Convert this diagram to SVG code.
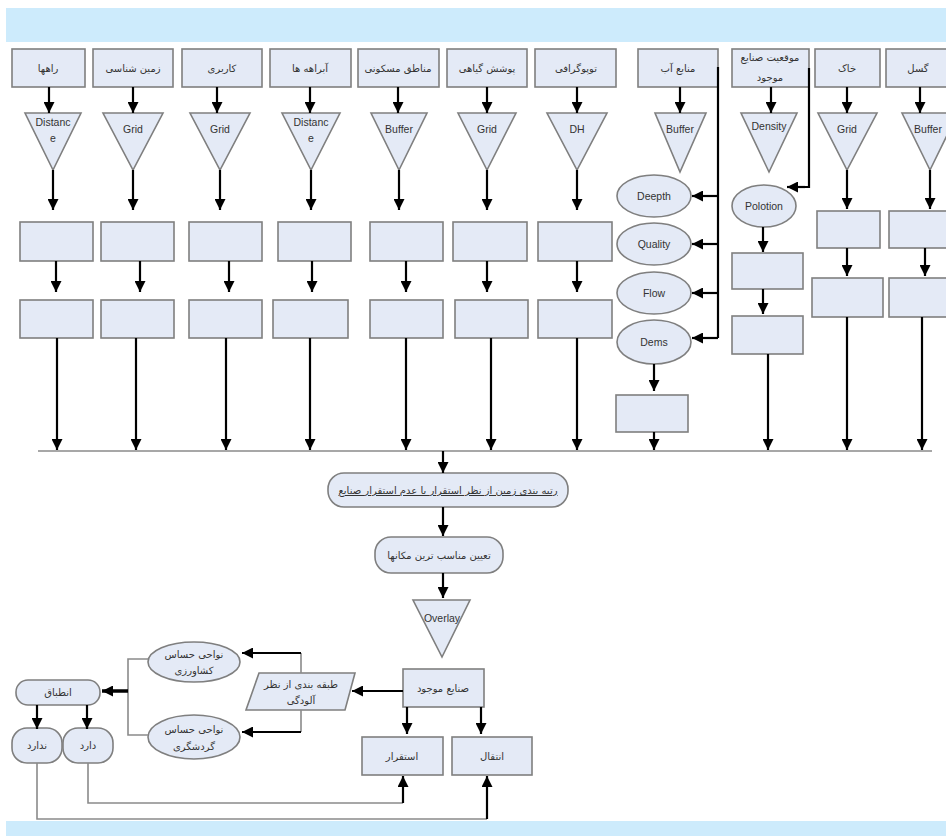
<svg xmlns="http://www.w3.org/2000/svg" width="946" height="836" viewBox="0 0 946 836">
<defs>
<marker id="ah" viewBox="0 0 10 10" refX="10" refY="5" markerWidth="11" markerHeight="11" markerUnits="userSpaceOnUse" orient="auto"><path d="M0,0 L10,5 L0,10 z" fill="#000"/></marker>
<style>
.bx{fill:#e4eaf6;stroke:#7f7f7f;stroke-width:1.6}
.ar{fill:none;stroke:#000;stroke-width:2.2;marker-end:url(#ah)}
.ln{fill:none;stroke:#000;stroke-width:2.2}
.gl{fill:none;stroke:#8a8a8a;stroke-width:1.6}
.fa{font-family:"DejaVu Sans",sans-serif;font-size:10px;fill:#333;text-anchor:middle}
.en{font-family:"Liberation Sans",Arial,sans-serif;font-size:10.5px;fill:#333;text-anchor:middle}
</style>
</defs>
<rect x="0" y="0" width="946" height="836" fill="#fff"/>
<rect x="6" y="8" width="940" height="34" fill="#cdebfc"/>
<rect x="6" y="821" width="940" height="15" fill="#cdebfc"/>

<g id="h1"><rect class="bx" x="12" y="49" width="73" height="38"/><text class="fa" x="48" y="72">راهها</text></g>
<g id="h2"><rect class="bx" x="93" y="49" width="80" height="38"/><text class="fa" x="133" y="72">زمین شناسی</text></g>
<g id="h3"><rect class="bx" x="182" y="49" width="80" height="38"/><text class="fa" x="222" y="72">کاربری</text></g>
<g id="h4"><rect class="bx" x="270" y="49" width="81" height="38"/><text class="fa" x="310" y="72">آبراهه ها</text></g>
<g id="h5"><rect class="bx" x="358" y="49" width="81" height="38"/><text class="fa" x="398" y="72">مناطق مسکونی</text></g>
<g id="h6"><rect class="bx" x="447" y="49" width="80" height="38"/><text class="fa" x="487" y="72">پوشش گیاهی</text></g>
<g id="h7"><rect class="bx" x="535" y="49" width="81" height="38"/><text class="fa" x="576" y="72">توپوگرافی</text></g>
<g id="h8"><rect class="bx" x="638" y="49" width="80" height="38"/><text class="fa" x="678" y="72">منابع آب</text></g>
<g id="h9"><rect class="bx" x="732" y="49" width="77" height="38"/><text class="fa" x="770" y="61">موقعیت صنایع</text><text class="fa" x="770" y="81">موجود</text></g>
<g id="h10"><rect class="bx" x="815" y="49" width="65" height="38"/><text class="fa" x="847" y="72">خاک</text></g>
<g id="h11"><rect class="bx" x="886" y="49" width="70" height="38"/><text class="fa" x="918" y="72">گسل</text></g>

<g id="t1"><polygon class="bx" points="25,113 81,113 53,170"/><text class="en" x="53" y="126">Distanc</text><text class="en" x="53" y="142">e</text></g>
<g id="t2"><polygon class="bx" points="103,113 163,113 133,170"/><text class="en" x="133" y="133">Grid</text></g>
<g id="t3"><polygon class="bx" points="190,113 250,113 220,170"/><text class="en" x="220" y="133">Grid</text></g>
<g id="t4"><polygon class="bx" points="282,113 340,113 311,170"/><text class="en" x="311" y="126">Distanc</text><text class="en" x="311" y="142">e</text></g>
<g id="t5"><polygon class="bx" points="371,113 427,113 399,170"/><text class="en" x="399" y="133">Buffer</text></g>
<g id="t6"><polygon class="bx" points="458,113 516,113 487,170"/><text class="en" x="487" y="133">Grid</text></g>
<g id="t7"><polygon class="bx" points="547,113 607,113 577,170"/><text class="en" x="577" y="133">DH</text></g>
<g id="t8"><polygon class="bx" points="655,113 706,113 680,172"/><text class="en" x="680" y="133">Buffer</text></g>
<g id="t9"><polygon class="bx" points="741,113 797,113 769,172"/><text class="en" x="769" y="130">Density</text></g>
<g id="t10"><polygon class="bx" points="818,113 877,113 847,170"/><text class="en" x="847" y="133">Grid</text></g>
<g id="t11"><polygon class="bx" points="902,113 958,113 930,170"/><text class="en" x="928" y="133">Buffer</text></g>

<g id="r1a"><rect class="bx" x="20" y="222" width="73" height="39"/></g>
<g id="r2a"><rect class="bx" x="101" y="222" width="73" height="39"/></g>
<g id="r3a"><rect class="bx" x="189" y="222" width="73" height="39"/></g>
<g id="r4a"><rect class="bx" x="278" y="222" width="73" height="39"/></g>
<g id="r5a"><rect class="bx" x="370" y="222" width="73" height="39"/></g>
<g id="r6a"><rect class="bx" x="453" y="222" width="74" height="39"/></g>
<g id="r7a"><rect class="bx" x="538" y="222" width="74" height="39"/></g>
<g id="r1b"><rect class="bx" x="20" y="300" width="73" height="38"/></g>
<g id="r2b"><rect class="bx" x="101" y="300" width="73" height="38"/></g>
<g id="r3b"><rect class="bx" x="189" y="300" width="73" height="38"/></g>
<g id="r4b"><rect class="bx" x="273" y="300" width="75" height="38"/></g>
<g id="r5b"><rect class="bx" x="370" y="300" width="73" height="38"/></g>
<g id="r6b"><rect class="bx" x="455" y="300" width="73" height="38"/></g>
<g id="r7b"><rect class="bx" x="538" y="300" width="74" height="38"/></g>

<g id="deepth"><ellipse class="bx" cx="654" cy="196" rx="37" ry="21"/><text class="en" x="654" y="200">Deepth</text></g>
<g id="quality"><ellipse class="bx" cx="654" cy="244" rx="37" ry="21"/><text class="en" x="654" y="248">Quality</text></g>
<g id="flow"><ellipse class="bx" cx="654" cy="293" rx="37" ry="21"/><text class="en" x="654" y="297">Flow</text></g>
<g id="dems"><ellipse class="bx" cx="654" cy="342" rx="37" ry="22"/><text class="en" x="654" y="346">Dems</text></g>
<g id="r8"><rect class="bx" x="616" y="395" width="72" height="37"/></g>
<g id="polotion"><ellipse class="bx" cx="764" cy="206" rx="32" ry="21"/><text class="en" x="764" y="210">Polotion</text></g>
<g id="r9a"><rect class="bx" x="732" y="253" width="71" height="36"/></g>
<g id="r9b"><rect class="bx" x="732" y="316" width="71" height="38"/></g>
<g id="r10a"><rect class="bx" x="817" y="211" width="63" height="37"/></g>
<g id="r10b"><rect class="bx" x="812" y="278" width="71" height="39"/></g>
<g id="r11a"><rect class="bx" x="889" y="211" width="67" height="37"/></g>
<g id="r11b"><rect class="bx" x="889" y="278" width="67" height="39"/></g>

<g id="rank"><rect class="bx" x="328" y="473" width="240" height="34" rx="16"/><text class="fa" x="448" y="494" text-decoration="underline">رتبه بندی زمین از نظر استقرار یا عدم استقرار صنایع</text></g>
<g id="best"><rect class="bx" x="375" y="537" width="128" height="36" rx="16"/><text class="fa" x="439" y="559">تعیین مناسب ترین مکانها</text></g>
<g id="overlay"><polygon class="bx" points="413,600 470,600 442,657"/><text class="en" x="442" y="622">Overlay</text></g>
<g id="industry"><rect class="bx" x="403" y="669" width="81" height="38"/><text class="fa" x="443" y="692">صنایع موجود</text></g>
<g id="pollution"><polygon class="bx" points="259,673 355,673 345,710 246,710"/><text class="fa" x="301" y="688">طبقه بندی از نظر</text><text class="fa" x="301" y="704">آلودگی</text></g>
<g id="agri"><ellipse class="bx" cx="194" cy="662" rx="46" ry="20"/><text class="fa" x="194" y="658">نواحی حساس</text><text class="fa" x="194" y="674">کشاورزی</text></g>
<g id="tour"><ellipse class="bx" cx="194" cy="737" rx="46" ry="22"/><text class="fa" x="194" y="733">نواحی حساس</text><text class="fa" x="194" y="750">گردشگری</text></g>
<g id="match"><rect class="bx" x="16" y="680" width="84" height="25" rx="12"/><text class="fa" x="58" y="696">انطباق</text></g>
<g id="nadarad"><rect class="bx" x="12" y="728" width="50" height="35" rx="15"/><text class="fa" x="37" y="749">ندارد</text></g>
<g id="darad"><rect class="bx" x="63" y="728" width="50" height="35" rx="15"/><text class="fa" x="88" y="749">دارد</text></g>
<g id="esteghrar"><rect class="bx" x="362" y="737" width="81" height="38"/><text class="fa" x="402" y="760">استقرار</text></g>
<g id="enteghal"><rect class="bx" x="452" y="737" width="80" height="38"/><text class="fa" x="492" y="760">انتقال</text></g>

<g id="connectors">
<path class="ar" d="M49,87 V113"/>
<path class="ar" d="M133,87 V113"/>
<path class="ar" d="M217,87 V113"/>
<path class="ar" d="M310,87 V113"/>
<path class="ar" d="M398,87 V113"/>
<path class="ar" d="M487,87 V113"/>
<path class="ar" d="M577,87 V113"/>
<path class="ar" d="M680,87 V113"/>
<path class="ar" d="M771,87 V113"/>
<path class="ar" d="M847,87 V113"/>
<path class="ar" d="M920,87 V113"/>

<path class="ar" d="M53,170 V210"/>
<path class="ar" d="M133,170 V210"/>
<path class="ar" d="M220,170 V210"/>
<path class="ar" d="M311,170 V210"/>
<path class="ar" d="M399,170 V210"/>
<path class="ar" d="M487,170 V210"/>
<path class="ar" d="M577,170 V210"/>
<path class="ar" d="M847,170 V209"/>
<path class="ar" d="M930,170 V209"/>

<path class="ar" d="M56,261 V292"/>
<path class="ar" d="M140,261 V292"/>
<path class="ar" d="M229,261 V292"/>
<path class="ar" d="M312,261 V292"/>
<path class="ar" d="M406,261 V292"/>
<path class="ar" d="M487,261 V292"/>
<path class="ar" d="M577,261 V292"/>

<path class="ar" d="M57,338 V450"/>
<path class="ar" d="M136,338 V450"/>
<path class="ar" d="M226,338 V450"/>
<path class="ar" d="M310,338 V450"/>
<path class="ar" d="M406,338 V450"/>
<path class="ar" d="M491,338 V450"/>
<path class="ar" d="M577,338 V450"/>

<path class="ln" d="M718,67 V338"/>
<path class="ar" d="M718,196 H692"/>
<path class="ar" d="M718,244 H692"/>
<path class="ar" d="M718,293 H692"/>
<path class="ar" d="M718,338 H692"/>
<path class="ar" d="M654,364 V391"/>
<path class="ar" d="M654,432 V450"/>

<path class="ln" d="M809,68 V187 H800"/>
<path class="ar" d="M805,187 H787"/>
<path class="ar" d="M763,227 V252"/>
<path class="ar" d="M763,289 V314"/>
<path class="ar" d="M768,354 V450"/>
<path class="ar" d="M847,248 V276"/>
<path class="ar" d="M925,248 V276"/>
<path class="ar" d="M847,317 V450"/>
<path class="ar" d="M922,317 V450"/>

<path class="gl" d="M38,451 H932"/>
<path class="ar" d="M443,451 V473"/>
<path class="ar" d="M443,507 V536"/>
<path class="ar" d="M443,573 V598"/>

<path class="ar" d="M403,691 H352"/>
<path class="ar" d="M407,707 V734"/>
<path class="ar" d="M481,707 V734"/>
<path class="gl" d="M301,653 V673 M301,710 V732"/>
<path class="ar" d="M301,653 H242"/>
<path class="ar" d="M301,732 H242"/>
<path class="gl" d="M148,659 H128 V735 H148"/>
<path class="ar" style="stroke-width:3.5" d="M128,691 H102"/>
<path class="ar" d="M37,705 V729"/>
<path class="ar" d="M87,705 V729"/>

<path class="gl" d="M88,763 V803 H403"/>
<path class="ar" d="M403,803 V776"/>
<path class="gl" d="M37,763 V819 H487"/>
<path class="ar" d="M487,819 V776"/>
</g>
</svg>
